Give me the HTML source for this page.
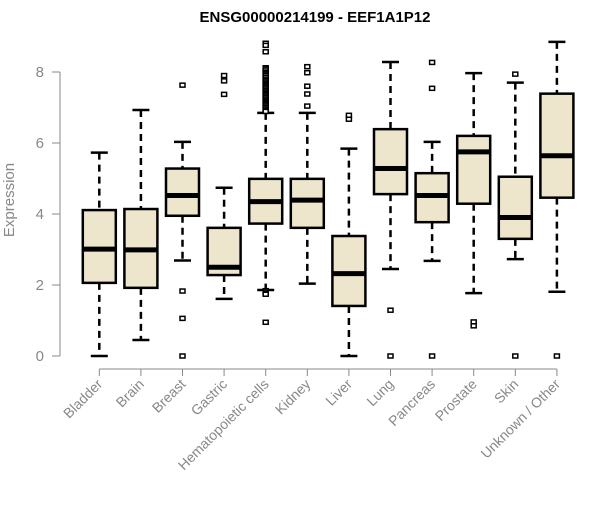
<!DOCTYPE html>
<html><head><meta charset="utf-8"><style>
body{margin:0;background:#fff;font-family:"Liberation Sans",Arial,sans-serif}
svg text{font-family:"Liberation Sans",Arial,sans-serif}
</style></head><body>
<svg id="chart" width="600" height="500" xmlns="http://www.w3.org/2000/svg">
<text x="315" y="22" text-anchor="middle" font-size="15" font-weight="bold">ENSG00000214199 - EEF1A1P12</text>
<text transform="translate(14,200) rotate(-90)" text-anchor="middle" font-size="15" fill="#888">Expression</text>
<g id="axes"></g><g id="marks"></g>
</svg>
<script>
const categories=["Bladder","Brain","Breast","Gastric","Hematopoietic cells","Kidney","Liver","Lung","Pancreas","Prostate","Skin","Unknown / Other"];
const whiskerLow=[0,0.45,2.69,1.61,1.86,2.04,0,2.45,2.68,1.77,2.73,1.81];
const q1=[2.06,1.92,3.95,2.28,3.73,3.61,1.41,4.56,3.77,4.29,3.3,4.46];
const median=[3.01,2.99,4.52,2.5,4.35,4.39,2.32,5.28,4.52,5.75,3.9,5.64];
const q3=[4.11,4.14,5.28,3.61,4.99,4.99,3.38,6.39,5.15,6.2,5.05,7.39];
const whiskerHigh=[5.73,6.93,6.03,4.74,6.85,6.85,5.84,8.28,6.03,7.97,7.7,8.85];
const outliers=[[],[],[7.63,1.83,1.06,0],[7.9,7.75,7.37],
[8.81,8.75,8.57,8.12,8.08,8.03,7.98,7.94,7.9,7.85,7.8,7.76,7.72,7.68,7.64,7.6,7.56,7.52,7.48,7.44,7.4,7.36,7.32,7.28,7.24,7.2,7.16,7.12,7.08,7.04,7.0,6.96,6.92,6.89,1.84,1.8,1.76,1.74,0.95],
[8.15,7.98,7.6,7.38,7.04],[6.78,6.67],[1.29,0],[8.27,7.54,0],[0.96,0.85],[7.94,0],[0]];
const yTicks=[0,2,4,6,8];
const NS="http://www.w3.org/2000/svg";
const yS=v=>356-v*35.5;
const xS=i=>99.3+i*41.6;
function mk(t,a,p){const e=document.createElementNS(NS,t);for(const k in a)e.setAttribute(k,a[k]);p.appendChild(e);return e;}
const axes=document.getElementById('axes'),marks=document.getElementById('marks');
const ya=mk('line',{x1:60,x2:60,y1:yS(0),y2:yS(8),stroke:'#888','stroke-width':1},axes);


yTicks.forEach(v=>{
 const l=mk('line',{x1:52,x2:60,y1:yS(v),y2:yS(v),stroke:'#888'},axes);
 
 
 const t=mk('text',{x:44,y:yS(v)+5,'text-anchor':'end','font-size':15,fill:'#888'},axes);
 t.textContent=v;
 
 
});
const xa=mk('line',{x1:xS(0),x2:xS(11),y1:369,y2:369,stroke:'#888'},axes);


categories.forEach((c,i)=>{
 const x=xS(i);
 const tk=mk('line',{x1:x,x2:x,y1:369,y2:376,stroke:'#888'},axes);
 
 
 const t=mk('text',{transform:`translate(${x+4},${385}) rotate(-45)`,'text-anchor':'end','font-size':14,fill:'#888'},axes);
 t.textContent=c;
 
 
 const g=mk('g',{},marks);
 
 
 mk('line',{x1:x,x2:x,y1:yS(whiskerHigh[i]),y2:yS(q3[i]),stroke:'#000','stroke-width':2.5,'stroke-dasharray':'7,5'},g);
 mk('line',{x1:x,x2:x,y1:yS(q1[i]),y2:yS(whiskerLow[i]),stroke:'#000','stroke-width':2.5,'stroke-dasharray':'7,5'},g);
 mk('line',{x1:x-8.5,x2:x+8.5,y1:yS(whiskerHigh[i]),y2:yS(whiskerHigh[i]),stroke:'#000','stroke-width':2.5},g);
 mk('line',{x1:x-8.5,x2:x+8.5,y1:yS(whiskerLow[i]),y2:yS(whiskerLow[i]),stroke:'#000','stroke-width':2.5},g);
 mk('rect',{x:x-16.5,y:yS(q3[i]),width:33,height:yS(q1[i])-yS(q3[i]),fill:'#ede6cc',stroke:'#000','stroke-width':2.5},g);
 mk('line',{x1:x-16.5,x2:x+16.5,y1:yS(median[i]),y2:yS(median[i]),stroke:'#000','stroke-width':5},g);
 outliers[i].forEach(v=>{
  const o=mk('rect',{x:x-2.5,y:yS(v)-2,width:5,height:4,fill:'#fff',stroke:'#000','stroke-width':1.5},g);
  
  
 });
});
</script>
</body></html>
